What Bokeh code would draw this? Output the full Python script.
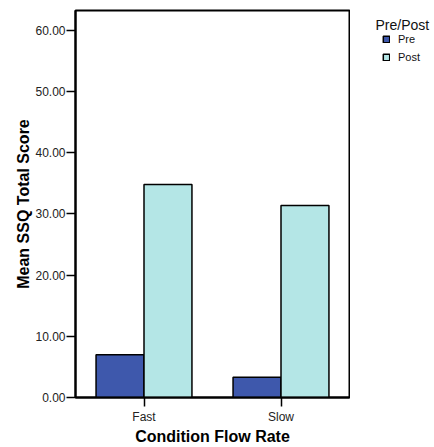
from bokeh.plotting import figure
from bokeh.layouts import row
from bokeh.models import (FactorRange, Range1d, FixedTicker, NumeralTickFormatter,
                          Legend, LegendItem, Label, ColumnDataSource)
from bokeh.transform import dodge
from bokeh.embed import file_html
from bokeh.resources import INLINE

categories = ["Fast", "Slow"]
pre_values = [7.0, 3.3]
post_values = [34.8, 31.4]
series_names = ["Pre", "Post"]
legend_title = "Pre/Post"
y_ticks = [0, 10, 20, 30, 40, 50, 60]

FONT = "Liberation Sans"
PRE_COLOR = "#3E58AC"
POST_COLOR = "#B4E6E6"

# ---------------- main chart ----------------
p = figure(width=350, height=447,
           x_range=FactorRange(*categories, range_padding=0),
           y_range=Range1d(0, 63.25),
           output_backend="svg", toolbar_location=None,
           min_border_left=75, min_border_right=1,
           min_border_top=10, min_border_bottom=46)

src = ColumnDataSource(dict(cat=categories, pre=pre_values, post=post_values))
bar_style = dict(width=0.35, line_color="black", line_width=1.5)
r1 = p.vbar(x=dodge("cat", -0.175, range=p.x_range), top="pre", source=src,
            fill_color=PRE_COLOR, **bar_style)
r2 = p.vbar(x=dodge("cat", 0.175, range=p.x_range), top="post", source=src,
            fill_color=POST_COLOR, **bar_style)

p.xgrid.visible = False
p.ygrid.visible = False
p.outline_line_color = "black"
p.outline_line_width = 2
p.outline_line_alpha = 1

p.yaxis.ticker = FixedTicker(ticks=y_ticks, minor_ticks=[])
p.yaxis.formatter = NumeralTickFormatter(format="0.00")

for ax in (p.xaxis[0], p.yaxis[0]):
    ax.axis_line_width = 2
    ax.axis_line_color = "black"
    ax.major_tick_out = 9
    ax.major_tick_in = 0
    ax.minor_tick_out = 0
    ax.minor_tick_in = 0
    ax.major_tick_line_color = "black"
    ax.major_tick_line_width = 1.5
    ax.major_label_text_font = FONT
    ax.major_label_text_font_size = "12px"
    ax.major_label_text_color = "#222222"
    ax.axis_label_text_font = FONT
    ax.axis_label_text_font_size = "16px"
    ax.axis_label_text_font_style = "bold"
    ax.axis_label_text_color = "black"

p.yaxis.major_label_standoff = 1
p.yaxis.axis_label_standoff = 0
p.xaxis.major_label_standoff = 3
p.xaxis.axis_label_standoff = 1
p.yaxis.axis_label = "Mean SSQ Total Score"
p.xaxis.axis_label = "Condition Flow Rate"

# ---------------- legend panel ----------------
# the legend lives in a narrow companion figure; its proxy renderers are hidden
# so only their legend swatches show
lp = figure(width=84, height=447, output_backend="svg", toolbar_location=None,
            x_range=FactorRange(*categories), y_range=Range1d(-2, -1),
            x_axis_type=None, y_axis_type=None, min_border=0)
lp.outline_line_color = None
lp.xgrid.visible = False
lp.ygrid.visible = False

lr1 = lp.vbar(x="cat", top="pre", source=src, fill_color=PRE_COLOR, **bar_style)
lr2 = lp.vbar(x="cat", top="post", source=src, fill_color=POST_COLOR, **bar_style)
lr1.visible = False
lr2.visible = False

legend = Legend(items=[LegendItem(label=series_names[0], renderers=[lr1]),
                       LegendItem(label=series_names[1], renderers=[lr2])],
                location=(32, 334), orientation="vertical",
                glyph_width=8, glyph_height=8,
                label_text_font=FONT, label_text_font_size="11px",
                label_text_color="#111111",
                label_standoff=8, label_height=12, spacing=6,
                padding=0, margin=0, border_line_color=None,
                background_fill_alpha=0, inactive_fill_alpha=0)
lp.add_layout(legend)

title = Label(x=25, y=373, x_units="screen", y_units="screen", text=legend_title,
              text_font=FONT, text_font_size="14px", text_baseline="alphabetic",
              text_color="#111111")
lp.add_layout(title)

layout = row(p, lp, spacing=0)
open("out.html", "w").write(file_html(layout, INLINE))
